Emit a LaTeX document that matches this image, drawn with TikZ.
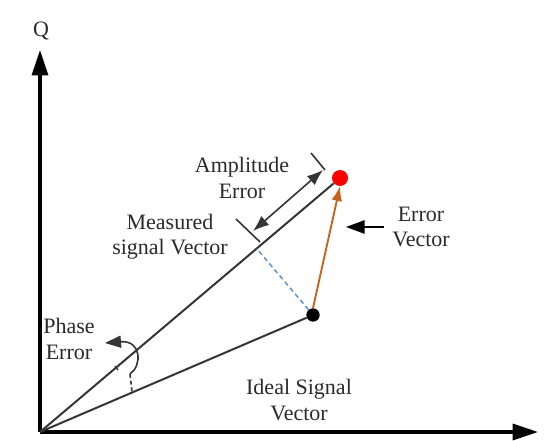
\documentclass[tikz,border=0pt]{standalone}
\usepackage{fontspec}
\setmainfont{Liberation Serif}
\usetikzlibrary{arrows.meta,calc}
\definecolor{txt}{HTML}{2A2A2A}
\definecolor{vecgray}{HTML}{353535}
\definecolor{errorange}{HTML}{C8601E}
\definecolor{dashblue}{HTML}{5B8FC9}
\tikzset{
  axisline/.style={line width=2.5pt, black, -{Triangle[length=19pt,width=12pt]}},
  vecline/.style={line width=1.5pt, vecgray},
  lbl/.style={text=txt, font=\fontsize{16.5}{19}\selectfont, align=center, inner sep=0pt},
  dotnode/.style={circle, inner sep=0pt, minimum size=#1},
  tickline/.style={line width=1.2pt, vecgray},
}
\begin{document}
\begin{tikzpicture}[x=0.75pt,y=-0.75pt]
\useasboundingbox (0,0) rectangle (555,441);
% axes
\coordinate (O) at (40,432);
\coordinate (Qtip) at (40,50);
\coordinate (Itip) at (538,432);
\draw[axisline] (O) -- (Qtip);
\draw[axisline] (O) -- (Itip);
\node[lbl] (Q) at (41,31) {Q};
% points
\node[dotnode=12pt, fill=red] (R) at (340,178) {};
\node[dotnode=10pt, fill=black] (B) at (313,315) {};
\coordinate (F) at ($(O)!(B)!(R)$);
% vectors
\draw[vecline] (O) -- (R);
\draw[vecline] (O) -- (B);
% dashed projection
\draw[dashblue, line width=1.1pt, dash pattern=on 3.5pt off 2.5pt] (B) -- (F);
% error vector
\draw[errorange, line width=1.4pt, -{Latex[length=11pt,width=8pt]}] (B.north) -- (R.south);
% amplitude error ticks and double arrow
\coordinate (T1a) at (311,153);
\coordinate (T1b) at (325,170);
\coordinate (T2a) at (236,219);
\coordinate (T2b) at (260,242);
\draw[tickline] (T1a) -- (T1b);
\draw[tickline] (T2a) -- (T2b);
\coordinate (A1) at (323,170);
\coordinate (A2) at (253,231);
\draw[tickline, {Latex[length=12pt,width=9pt]}-{Latex[length=12pt,width=9pt]}] (A2) -- (A1);
% error vector label arrow
\coordinate (EVs) at (384,227);
\coordinate (EVe) at (346,227);
\draw[line width=1.3pt, black, -{Triangle[length=14pt,width=10pt]}] (EVs) -- (EVe);
% phase error arc
\coordinate (P0) at (130,374);
\coordinate (P1) at (105,343);
\coordinate (P2) at (132,392);
\draw[line width=1.2pt, vecgray, -{Triangle[length=12pt,width=9pt]}] (P0) .. controls (142,366) and (142,340) .. (P1);
\draw[line width=1.2pt, vecgray, dash pattern=on 3pt off 2pt] (P0) -- (P2);
\coordinate (Pt1) at (115,366);
\coordinate (Pt2) at (118,370);
\draw[line width=1pt, vecgray] (Pt1) -- (Pt2);
% labels
\node[lbl] (amp) at (242,178) {Amplitude\\Error};
\node[lbl] (meas) at (170,237) {Measured\\signal Vector};
\node[lbl] (errv) at (421,227) {Error\\Vector};
\node[lbl] (phase) at (69,339) {Phase\\Error};
\node[lbl] (ideal) at (299,400) {Ideal Signal\\Vector};
\end{tikzpicture}
\end{document}
